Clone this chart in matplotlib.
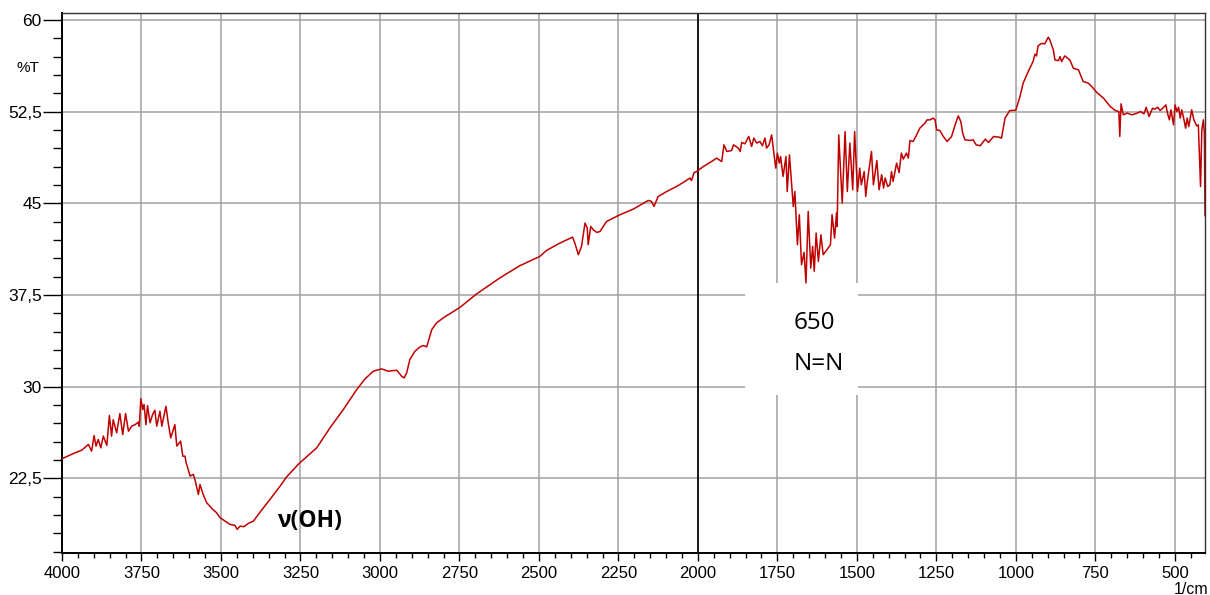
import numpy as np
import matplotlib.pyplot as plt
from matplotlib.patches import Rectangle
from matplotlib.ticker import MultipleLocator, FixedLocator

# wavenumbers (1/cm) and transmittance (%T)
wavenumber = [4000, 3964, 3938, 3917, 3907, 3899, 3893, 3886, 3878, 3870, 3859, 3851, 3844, 3839,
              3828, 3818, 3809, 3800, 3791, 3781, 3770, 3760, 3757, 3752, 3746, 3742, 3736, 3731,
              3723, 3715, 3708, 3702, 3692, 3686, 3673, 3666, 3658, 3645, 3639, 3627, 3620, 3613,
              3610, 3597, 3587, 3582, 3571, 3566, 3556, 3545, 3535, 3526, 3514, 3503, 3487, 3472,
              3456, 3449, 3440, 3428, 3414, 3398, 3380, 3346, 3314, 3293, 3254, 3199, 3157, 3115,
              3073, 3047, 3021, 2995, 2974, 2947, 2932, 2924, 2916, 2906, 2890, 2874, 2864, 2853,
              2837, 2822, 2801, 2748, 2696, 2623, 2560, 2497, 2476, 2434, 2394, 2387, 2376, 2366,
              2355, 2348, 2345, 2337, 2329, 2318, 2308, 2287, 2245, 2203, 2156, 2146, 2138, 2125,
              2098, 2067, 2046, 2025, 2020, 2012, 2004, 1983, 1957, 1941, 1925, 1918, 1909, 1894,
              1888, 1873, 1867, 1862, 1852, 1840, 1831, 1824, 1815, 1805, 1797, 1789, 1784, 1776,
              1768, 1763, 1755, 1750, 1744, 1740, 1732, 1723, 1719, 1712, 1700, 1695, 1687, 1681,
              1674, 1666, 1660, 1653, 1645, 1639, 1634, 1628, 1621, 1613, 1606, 1594, 1583, 1578,
              1570, 1564, 1562, 1557, 1546, 1537, 1530, 1522, 1513, 1507, 1498, 1491, 1486, 1477,
              1472, 1467, 1454, 1448, 1437, 1430, 1422, 1416, 1411, 1403, 1396, 1391, 1386, 1375,
              1367, 1360, 1354, 1344, 1338, 1333, 1323, 1312, 1302, 1286, 1279, 1270, 1260, 1254,
              1249, 1239, 1228, 1216, 1202, 1192, 1181, 1173, 1167, 1160, 1144, 1134, 1125, 1112,
              1096, 1086, 1070, 1054, 1045, 1034, 1019, 1000, 987, 977, 961, 945, 940, 935,
              930, 919, 909, 898, 893, 882, 877, 866, 861, 856, 846, 830, 819, 803,
              788, 772, 761, 745, 724, 703, 687, 676, 673, 669, 662, 650, 634, 618,
              608, 597, 590, 581, 570, 563, 554, 546, 538, 528, 523, 517, 512, 504,
              499, 493, 488, 483, 478, 471, 466, 461, 456, 447, 440, 431, 426, 419,
              415, 410, 407, 405]
transmittance = [24.11, 24.54, 24.81, 25.28, 24.73, 26.01, 25.14, 25.69, 25.00, 25.96, 25.20, 27.65, 25.96, 27.30,
                 26.23, 27.81, 26.09, 27.81, 26.36, 26.77, 26.90, 27.10, 26.77, 29.01, 28.14, 28.55, 26.90, 28.46,
                 27.05, 27.73, 28.08, 26.77, 28.00, 26.77, 28.40, 27.05, 25.82, 26.90, 25.14, 25.55, 24.32, 24.32,
                 23.83, 22.69, 22.83, 22.42, 21.19, 22.00, 21.19, 20.51, 20.24, 19.97, 19.70, 19.29, 19.01, 18.74,
                 18.66, 18.33, 18.60, 18.55, 18.82, 19.01, 19.64, 20.78, 21.87, 22.64, 23.73, 25.00, 26.64, 28.14,
                 29.77, 30.64, 31.27, 31.46, 31.27, 31.35, 30.86, 30.72, 31.13, 32.22, 32.90, 33.26, 33.37, 33.26,
                 34.67, 35.22, 35.63, 36.50, 37.59, 38.90, 39.90, 40.66, 41.15, 41.75, 42.24, 41.75, 40.80, 41.48,
                 43.39, 42.98, 41.62, 43.11, 42.84, 42.62, 42.70, 43.52, 44.07, 44.53, 45.24, 45.16, 44.75, 45.56,
                 45.97, 46.38, 46.71, 47.07, 46.87, 47.52, 47.60, 48.01, 48.42, 48.70, 48.42, 49.79, 49.24, 49.32,
                 49.79, 49.52, 49.24, 49.98, 49.87, 50.47, 49.65, 50.34, 49.93, 50.06, 49.71, 50.34, 49.52, 49.79,
                 50.60, 49.52, 47.88, 49.11, 48.29, 48.83, 47.20, 48.83, 45.97, 48.97, 44.75, 45.97, 41.62, 44.07,
                 39.98, 40.99, 38.49, 44.34, 39.71, 41.48, 39.44, 42.57, 40.25, 42.43, 40.80, 41.21, 41.62, 44.07,
                 42.16, 44.21, 43.11, 50.60, 45.02, 50.87, 45.97, 49.93, 46.11, 50.87, 45.97, 47.88, 46.52, 47.60,
                 45.56, 46.79, 49.24, 46.52, 48.50, 46.11, 47.34, 46.25, 47.07, 46.38, 46.52, 47.60, 46.79, 48.29,
                 47.52, 49.11, 48.62, 49.11, 48.70, 50.14, 50.06, 50.60, 51.15, 51.56, 51.83, 51.83, 51.97, 51.83,
                 51.01, 50.96, 50.47, 50.06, 50.47, 51.34, 52.16, 51.69, 50.74, 50.20, 50.14, 50.20, 49.79, 49.71,
                 50.25, 49.98, 50.47, 50.42, 50.34, 51.97, 52.59, 52.62, 53.73, 54.83, 55.78, 56.65, 57.20, 57.06,
                 57.88, 58.09, 58.04, 58.59, 58.37, 57.55, 56.73, 56.67, 57.00, 56.60, 57.06, 56.73, 56.05, 55.92,
                 54.96, 54.83, 54.55, 54.06, 53.60, 52.92, 52.59, 52.51, 50.47, 53.14, 52.24, 52.38, 52.24, 52.38,
                 52.51, 52.32, 52.86, 52.10, 52.78, 52.70, 52.86, 52.59, 52.78, 53.05, 52.38, 51.83, 52.65, 51.42,
                 53.05, 52.51, 52.86, 51.97, 52.65, 51.83, 51.15, 51.97, 51.28, 52.65, 51.83, 51.34, 51.42, 46.38,
                 51.01, 51.83, 50.74, 44.00]

x_ticks = [4000, 3750, 3500, 3250, 3000, 2750, 2500, 2250, 2000, 1750, 1500, 1250, 1000, 750, 500]
y_ticks = [22.5, 30, 37.5, 45, 52.5, 60]
y_tick_labels = ["22,5", "30", "37,5", "45", "52,5", "60"]

tick_font = ['Liberation Sans Narrow', 'Liberation Sans', 'DejaVu Sans']
plt.rcParams['font.family'] = tick_font

fig = plt.figure(figsize=(12.1, 5.95), dpi=100)
ax = fig.add_axes([62 / 1210, 1 - 553 / 595, 1143 / 1210, 540 / 595])

# grid first, then the white label box over it, then the spectrum
ax.grid(True, which='major', color='#a0a0a0', linewidth=1.1, zorder=1)
ax.axvline(2000, color='black', linewidth=1.2, zorder=2)
ax.add_patch(Rectangle((1852, 29.36), 1497 - 1852, 38.51 - 29.36, facecolor='white',
                       edgecolor='none', zorder=2.5))
ax.plot(wavenumber, transmittance, color='#c00000', linewidth=1.1, zorder=3)

ax.set_xlim(4000, 405)
ax.set_ylim(16.4, 60.57)
ax.set_axisbelow(True)

ax.xaxis.set_major_locator(FixedLocator(x_ticks))
ax.xaxis.set_minor_locator(MultipleLocator(50))
ax.set_yticks(y_ticks)
ax.set_yticklabels(y_tick_labels)
ax.yaxis.set_minor_locator(MultipleLocator(1.5))

ax.tick_params(axis='x', which='major', direction='out', length=6, width=1.0, labelsize=12, pad=3)
ax.tick_params(axis='x', which='minor', direction='out', length=3.5, width=1.0)
ax.tick_params(axis='y', which='major', direction='out', length=13.5, width=1.0, labelsize=12.5, pad=1)
ax.tick_params(axis='y', which='minor', direction='out', length=6.5, width=1.0)

for side in ['left', 'bottom']:
    ax.spines[side].set_linewidth(1.4)
for side in ['top', 'right']:
    ax.spines[side].set_linewidth(1.0)
    ax.spines[side].set_color('#333333')

# axis labels as in the instrument printout
fig.text(28 / 1210, 1 - 68 / 595, "%T", fontsize=11, ha='center', va='center')
fig.text(1208 / 1210, 1 - 589 / 595, "1/cm", fontsize=11.5, ha='right', va='center')

# band annotations
ax.text(3220, 19.0, "ν(OH)", fontsize=16.5, fontweight='bold', family=['Open Sans', 'DejaVu Sans'],
        ha='center', va='center', zorder=4)
ax.text(1700, 35.2, "650", fontsize=17.5, family=['Open Sans', 'DejaVu Sans'],
        ha='left', va='center', zorder=4)
ax.text(1700, 31.9, "N=N", fontsize=17.5, family=['Open Sans', 'DejaVu Sans'],
        ha='left', va='center', zorder=4)

plt.savefig("out.png", dpi=100)
